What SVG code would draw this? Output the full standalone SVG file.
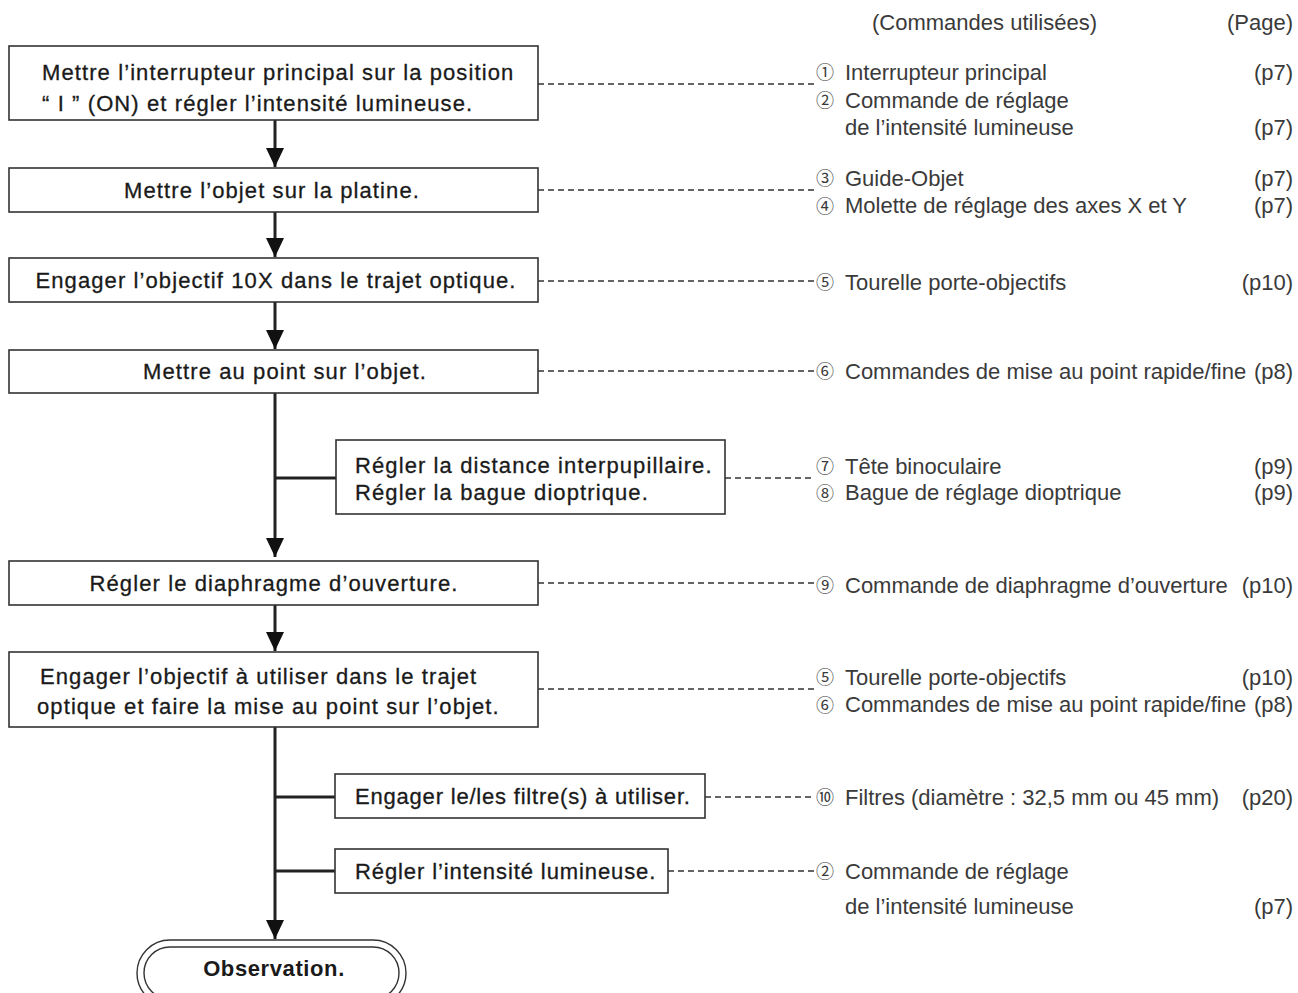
<svg xmlns="http://www.w3.org/2000/svg" width="1298" height="993" viewBox="0 0 1298 993">
<defs>
<style>
.box{fill:#fff;stroke:#333;stroke-width:1.6}
.t{font-family:"Liberation Sans",Arial,sans-serif;font-size:22px;letter-spacing:1.1px;fill:#1a1a1a;stroke:#1a1a1a;stroke-width:0.3}
.c{text-anchor:middle}
.r{font-family:"Liberation Sans",Arial,sans-serif;font-size:22px;fill:#3a3a3a}
.n{font-family:"Noto Sans CJK JP","Noto Sans CJK SC",sans-serif;font-size:18px;fill:#3a3a3a}
.pg{text-anchor:end}
.main{stroke:#222;stroke-width:3;fill:none}
.dash{stroke:#333;stroke-width:1.4;stroke-dasharray:6 4;fill:none}
</style>
<marker id="ah" markerWidth="20" markerHeight="18" refX="19" refY="9" orient="auto" markerUnits="userSpaceOnUse" viewBox="0 0 20 18">
<path d="M0,0 L19,9 L0,18 Z" fill="#111"/>
</marker>
</defs>
<rect width="1298" height="993" fill="#fff"/>

<g id="connectors">
<line class="main" x1="275" y1="120" x2="275" y2="167" marker-end="url(#ah)"/>
<line class="main" x1="275" y1="212" x2="275" y2="257" marker-end="url(#ah)"/>
<line class="main" x1="275" y1="302" x2="275" y2="349" marker-end="url(#ah)"/>
<line class="main" x1="275" y1="393" x2="275" y2="557" marker-end="url(#ah)"/>
<line class="main" x1="275" y1="605" x2="275" y2="651" marker-end="url(#ah)"/>
<line class="main" x1="275" y1="727" x2="275" y2="939" marker-end="url(#ah)"/>
<line class="main" x1="275" y1="478" x2="336" y2="478"/>
<line class="main" x1="275" y1="797" x2="335" y2="797"/>
<line class="main" x1="275" y1="871" x2="335" y2="871"/>
<line class="dash" x1="538" y1="84" x2="814" y2="84"/>
<line class="dash" x1="538" y1="190" x2="814" y2="190"/>
<line class="dash" x1="538" y1="281" x2="814" y2="281"/>
<line class="dash" x1="538" y1="371" x2="814" y2="371"/>
<line class="dash" x1="725" y1="478" x2="814" y2="478"/>
<line class="dash" x1="538" y1="583" x2="814" y2="583"/>
<line class="dash" x1="538" y1="689" x2="814" y2="689"/>
<line class="dash" x1="705" y1="797" x2="814" y2="797"/>
<line class="dash" x1="668" y1="871" x2="814" y2="871"/>
</g>

<g id="n1">
<rect class="box" x="9" y="46" width="529" height="74"/>
<text class="t" x="42" y="80">Mettre l’interrupteur principal sur la position</text>
<text class="t" x="42" y="111">“ I ” (ON) et régler l’intensité lumineuse.</text>
</g>
<g id="n2">
<rect class="box" x="9" y="168" width="529" height="44"/>
<text class="t c" x="272" y="198">Mettre l’objet sur la platine.</text>
</g>
<g id="n3">
<rect class="box" x="9" y="258" width="529" height="44"/>
<text class="t c" x="276" y="288">Engager l’objectif 10X dans le trajet optique.</text>
</g>
<g id="n4">
<rect class="box" x="9" y="350" width="529" height="43"/>
<text class="t c" x="285" y="379">Mettre au point sur l’objet.</text>
</g>
<g id="n4b">
<rect class="box" x="336" y="440" width="389" height="74"/>
<text class="t" x="355" y="473">Régler la distance interpupillaire.</text>
<text class="t" x="355" y="500">Régler la bague dioptrique.</text>
</g>
<g id="n5">
<rect class="box" x="9" y="561" width="529" height="44"/>
<text class="t c" x="274" y="591">Régler le diaphragme d’ouverture.</text>
</g>
<g id="n6">
<rect class="box" x="9" y="652" width="529" height="75"/>
<text class="t" x="40" y="684">Engager l’objectif à utiliser dans le trajet</text>
<text class="t" x="37" y="714">optique et faire la mise au point sur l’objet.</text>
</g>
<g id="n6b">
<rect class="box" x="335" y="774" width="370" height="44"/>
<text class="t" x="355" y="804" style="letter-spacing:0.8px">Engager le/les filtre(s) à utiliser.</text>
</g>
<g id="n6c">
<rect class="box" x="335" y="849" width="333" height="44"/>
<text class="t" x="355" y="879" style="letter-spacing:0.9px">Régler l’intensité lumineuse.</text>
</g>
<g id="n7">
<rect x="137" y="940" width="269" height="66" rx="33" fill="#fff" stroke="#333" stroke-width="1.4"/>
<rect x="144" y="947" width="255" height="52" rx="26" fill="#fff" stroke="#333" stroke-width="1.4"/>
<text x="274" y="976" text-anchor="middle" font-family="Liberation Sans, Arial, sans-serif" font-size="22" font-weight="bold" letter-spacing="0.6" fill="#1a1a1a">Observation.</text>
</g>

<g id="labels">
<text class="r" x="872" y="30">(Commandes utilisées)</text>
<text class="r pg" x="1293" y="30">(Page)</text>

<text class="n" x="816" y="79">①</text><text class="r" x="845" y="80">Interrupteur principal</text>
<text class="r pg" x="1293" y="80">(p7)</text>
<text class="n" x="816" y="107">②</text><text class="r" x="845" y="108">Commande de réglage</text>
<text class="r" x="845" y="135">de l’intensité lumineuse</text>
<text class="r pg" x="1293" y="135">(p7)</text>

<text class="n" x="816" y="185">③</text><text class="r" x="845" y="186">Guide-Objet</text>
<text class="r pg" x="1293" y="186">(p7)</text>
<text class="n" x="816" y="212.5">④</text><text class="r" x="845" y="213">Molette de réglage des axes X et Y</text>
<text class="r pg" x="1293" y="213">(p7)</text>

<text class="n" x="816" y="289">⑤</text><text class="r" x="845" y="290">Tourelle porte-objectifs</text>
<text class="r pg" x="1293" y="290">(p10)</text>

<text class="n" x="816" y="378">⑥</text><text class="r" x="845" y="379">Commandes de mise au point rapide/fine</text>
<text class="r pg" x="1293" y="379">(p8)</text>

<text class="n" x="816" y="472.5">⑦</text><text class="r" x="845" y="474">Tête binoculaire</text>
<text class="r pg" x="1293" y="474">(p9)</text>
<text class="n" x="816" y="499.5">⑧</text><text class="r" x="845" y="500">Bague de réglage dioptrique</text>
<text class="r pg" x="1293" y="500">(p9)</text>

<text class="n" x="816" y="592">⑨</text><text class="r" x="845" y="593">Commande de diaphragme d’ouverture</text>
<text class="r pg" x="1293" y="593">(p10)</text>

<text class="n" x="816" y="684">⑤</text><text class="r" x="845" y="685">Tourelle porte-objectifs</text>
<text class="r pg" x="1293" y="685">(p10)</text>
<text class="n" x="816" y="711.5">⑥</text><text class="r" x="845" y="712">Commandes de mise au point rapide/fine</text>
<text class="r pg" x="1293" y="712">(p8)</text>

<text class="n" x="816" y="804">⑩</text><text class="r" x="845" y="805">Filtres (diamètre : 32,5 mm ou 45 mm)</text>
<text class="r pg" x="1293" y="805">(p20)</text>

<text class="n" x="816" y="878">②</text><text class="r" x="845" y="879">Commande de réglage</text>
<text class="r" x="845" y="914">de l’intensité lumineuse</text>
<text class="r pg" x="1293" y="914">(p7)</text>
</g>
</svg>
